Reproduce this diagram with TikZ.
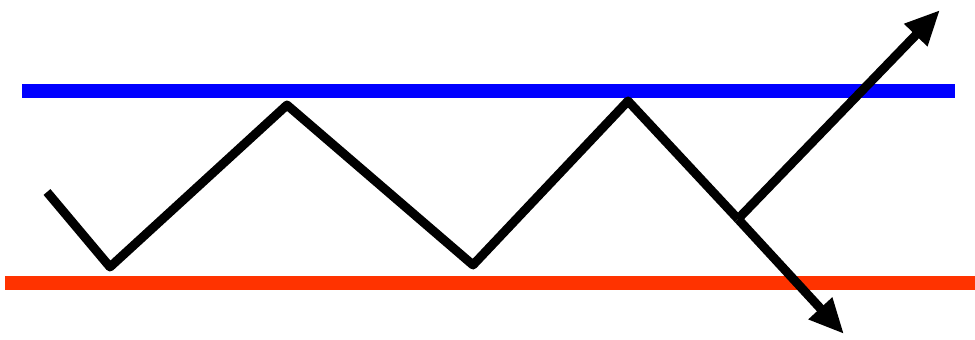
\documentclass[tikz,border=0pt]{standalone}
\usepackage{tikz}
\usetikzlibrary{arrows.meta}
\definecolor{topband}{RGB}{0,0,255}
\definecolor{lowband}{RGB}{255,51,0}

\begin{document}
\begin{tikzpicture}[
  x=0.03cm, y=-0.03cm,
  band/.style  = {line width=0.43cm},
  zig/.style   = {line width=0.27cm, color=black, line join=round},
  arr/.style   = {-{Triangle[length=1.05cm, width=0.9cm]}, line width=0.27cm, color=black}
]
\useasboundingbox (0,0) rectangle (975,340);

\coordinate (blueL) at (22,91);
\coordinate (blueR) at (955,91);
\coordinate (redL)  at (5,283);
\coordinate (redR)  at (975,283);

\coordinate (p0) at (47,192);
\coordinate (p1) at (110,267);
\coordinate (p2) at (287,105);
\coordinate (p3) at (473,265);
\coordinate (p4) at (628,101);
\coordinate (br) at (738,219);
\coordinate (dn) at (844,334);
\coordinate (up) at (940,10);

\draw[band, lowband] (redL) -- (redR);
\draw[band, topband] (blueL) -- (blueR);

\draw[zig] (p0) -- (p1) -- (p2) -- (p3) -- (p4) -- (br);
\draw[arr] (br) -- (dn);
\draw[arr] (br) -- (up);
\end{tikzpicture}
\end{document}
